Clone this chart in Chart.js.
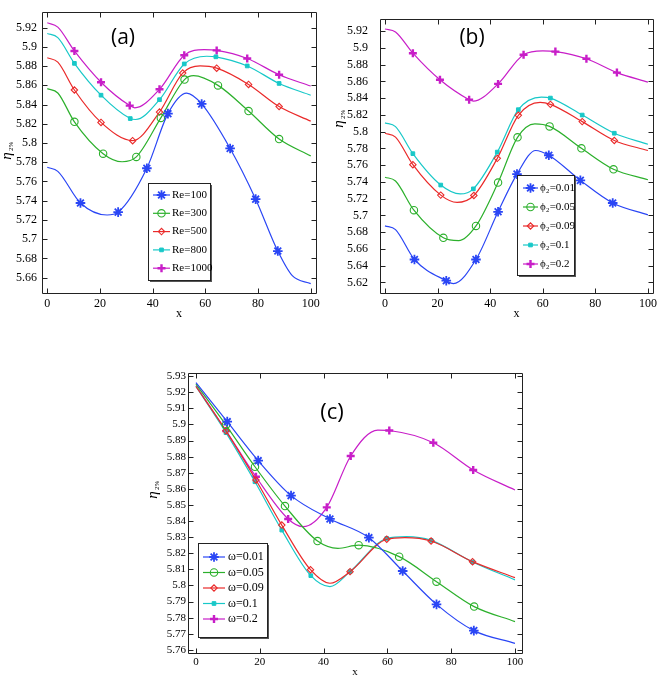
<!DOCTYPE html>
<html><head><meta charset="utf-8">
<script src="https://cdn.jsdelivr.net/npm/chart.js@4/dist/chart.umd.min.js"></script>
<style>
html,body{margin:0;padding:0;background:#fff;width:661px;height:679px;overflow:hidden;position:relative}
canvas{position:absolute}
</style></head><body>
<canvas id="ca" style="left:0px;top:0px;width:330px;height:330px" width="330" height="330"></canvas>
<canvas id="cb" style="left:330px;top:0px;width:331px;height:330px" width="331" height="330"></canvas>
<canvas id="cc" style="left:140px;top:340px;width:390px;height:339px" width="390" height="339"></canvas>
<script>
// ---------------- tick labels ----------------
const xTicks = [0, 20, 40, 60, 80, 100];
const yTicksA = [5.66, 5.68, 5.7, 5.72, 5.74, 5.76, 5.78, 5.8, 5.82, 5.84, 5.86, 5.88, 5.9, 5.92];
const yTicksB = [5.62, 5.64, 5.66, 5.68, 5.7, 5.72, 5.74, 5.76, 5.78, 5.8, 5.82, 5.84, 5.86, 5.88, 5.9, 5.92];
const yTicksC = [5.76, 5.77, 5.78, 5.79, 5.8, 5.81, 5.82, 5.83, 5.84, 5.85, 5.86, 5.87, 5.88, 5.89, 5.9, 5.91, 5.92, 5.93];

// ---------------- panel (a): Re ----------------
const labelsA = ['Re=100', 'Re=300', 'Re=500', 'Re=800', 'Re=1000'];
const a_Re100_marks = [[12.6,5.7376],[26.9,5.7281],[37.8,5.7737],[45.8,5.8305],[58.6,5.8406],[69.4,5.7943],[79.1,5.7416],[87.5,5.6876]];
const a_Re100_curve = [[0,5.7747],[4,5.7705],[22.7,5.7251],[52.9,5.8518],[93,5.662],[100,5.6538]];
const a_Re300_marks = [[10.3,5.822],[21.2,5.7889],[33.8,5.7855],[43.1,5.8261],[52.1,5.8659],[64.8,5.8599],[76.4,5.8332],[88,5.8041]];
const a_Re300_curve = [[0,5.8565],[4,5.852],[28.4,5.7805],[55.5,5.870],[100,5.7866]];
const a_Re500_marks = [[10.3,5.8551],[20.4,5.8214],[32.4,5.8024],[42.6,5.8322],[51.4,5.8727],[64.3,5.8778],[76.4,5.8609],[88,5.8379]];
const a_Re500_curve = [[0,5.8886],[4,5.884],[58,5.8801],[100,5.8227]];
const a_Re800_marks = [[10.3,5.8828],[20.4,5.8497],[31.5,5.8254],[42.6,5.845],[52,5.8822],[64,5.8896],[75.9,5.8801],[88,5.8619]];
const a_Re800_curve = [[0,5.9139],[4,5.9095],[33.5,5.8244],[60.5,5.8902],[100,5.8497]];
const a_Re1000_marks = [[10.3,5.8957],[20.4,5.8632],[31.3,5.8389],[42.6,5.8558],[52,5.8913],[64.3,5.8963],[75.9,5.8879],[88,5.871]];
const a_Re1000_curve = [[0,5.925],[4,5.9205],[33.2,5.8366],[59.5,5.897],[100,5.8592]];

// ---------------- panel (b): phi2 ----------------
const labelsB = ['\u03D5\u2082=0.01', '\u03D5\u2082=0.05', '\u03D5\u2082=0.09', '\u03D5\u2082=0.1', '\u03D5\u2082=0.2'];
const b_p001_marks = [[11.2,5.6473],[23.3,5.622],[34.6,5.6473],[43,5.7043],[50.2,5.7493],[62.3,5.7718],[74.3,5.7418],[86.6,5.7148]];
const b_p001_curve = [[0,5.6874],[4,5.683],[26,5.6185],[57.3,5.7775],[100,5.7006]];
const b_p005_marks = [[11,5.7062],[22.2,5.6732],[34.6,5.6874],[43,5.7392],[50.4,5.7932],[62.6,5.8063],[74.7,5.7801],[86.9,5.755]];
const b_p005_curve = [[0,5.7456],[4,5.741],[28,5.6698],[57,5.8093],[100,5.7426]];
const b_p009_marks = [[10.6,5.7605],[21.2,5.7242],[33.8,5.7238],[42.7,5.7681],[50.7,5.8195],[62.9,5.8326],[75,5.812],[87.2,5.7895]];
const b_p009_curve = [[0,5.7981],[4,5.7935],[27.4,5.7155],[59,5.835],[100,5.7775]];
const b_p01_marks = [[10.6,5.7737],[21.2,5.7362],[33.6,5.7317],[42.7,5.7756],[50.7,5.8262],[62.9,5.8401],[75,5.8198],[87.2,5.7981]];
const b_p01_curve = [[0,5.8105],[4,5.806],[28.6,5.7256],[59.5,5.8412],[100,5.785]];
const b_p02_marks = [[10.6,5.8937],[20.9,5.8619],[32,5.8382],[43,5.857],[52.7,5.8919],[64.8,5.8956],[76.6,5.887],[88.2,5.8705]];
const b_p02_curve = [[0,5.9226],[4,5.919],[33.6,5.8364],[60,5.8964],[100,5.8592]];

// ---------------- panel (c): omega ----------------
const labelsC = ['\u03C9=0.01', '\u03C9=0.05', '\u03C9=0.09', '\u03C9=0.1', '\u03C9=0.2'];
const c_w001_marks = [[9.8,5.9017],[19.5,5.8775],[29.8,5.8558],[42,5.8413],[54.2,5.8297],[64.8,5.809],[75.4,5.7883],[87.1,5.772]];
const c_w001_curve = [[0,5.926],[100,5.7641]];
const c_w005_marks = [[9.4,5.8996],[18.5,5.8737],[27.9,5.8493],[38.1,5.8276],[51,5.825],[63.7,5.8179],[75.4,5.8024],[87.2,5.7869]];
const c_w005_curve = [[0,5.925],[44.5,5.8231],[100,5.7776]];
const c_w009_marks = [[9.4,5.896],[18.8,5.8655],[26.9,5.8375],[35.9,5.8098],[48.3,5.8086],[59.8,5.8287],[73.7,5.8276],[86.7,5.8148]];
const c_w009_curve = [[0,5.9235],[42,5.8014],[65.5,5.8297],[100,5.8049]];
const c_w01_marks = [[9.4,5.8949],[18.5,5.8644],[26.9,5.8344],[36,5.8061],[48.3,5.8086],[59.8,5.8292],[73.7,5.828],[86.7,5.8146]];
const c_w01_curve = [[0,5.9235],[42,5.7993],[66,5.8303],[100,5.8035]];
const c_w02_marks = [[9.5,5.8959],[18.8,5.8675],[28.9,5.8413],[41,5.8485],[48.5,5.8804],[60.6,5.8962],[74.4,5.8886],[86.9,5.8717]];
const c_w02_curve = [[0,5.924],[33.6,5.8365],[57,5.8965],[100,5.8593]];

// ---------------- styles ----------------
const COLORS = ['#2a46f5', '#2cb02c', '#ea2a2a', '#18c8c8', '#c81ec8'];
const MARKERS = [
  {style:'star', r:4.8, w:1.8, fill:false},
  {style:'circle', r:3.7, w:1.1, fill:false},
  {style:'rectRot', r:3.2, w:1.1, fill:false},
  {style:'rect', r:2.6, w:1, fill:true},
  {style:'cross', r:4, w:2.4, fill:false}
];

function merge(marks, curve) {
  const pts = marks.map(p => ({x:p[0], y:p[1], m:true})).concat(curve.map(p => ({x:p[0], y:p[1], m:false})));
  pts.sort((a, b) => a.x - b.x);
  return pts;
}
function makeDatasets(labels, series) {
  return series.map((s, i) => ({
    label: labels[i],
    data: merge(s[0], s[1]),
    borderColor: COLORS[i],
    backgroundColor: MARKERS[i].fill ? COLORS[i] : 'rgba(255,255,255,0)',
    borderWidth: 1.2,
    pointStyle: MARKERS[i].style,
    pointBorderWidth: MARKERS[i].w,
    pointBorderColor: COLORS[i],
    pointBackgroundColor: MARKERS[i].fill ? COLORS[i] : 'rgba(255,255,255,0)',
    pointRadius: ctx => (ctx.raw && ctx.raw.m) ? MARKERS[i].r : 0,
    pointHoverRadius: 0,
    cubicInterpolationMode: 'monotone',
    fill: false
  }));
}

const fmt = v => String(+(+v).toFixed(2));

const frame = {
  id: 'frame',
  afterDraw(chart, args, o) {
    const {ctx, chartArea: a, scales: {x, y}} = chart;
    ctx.save();
    ctx.strokeStyle = '#222';
    ctx.lineWidth = 1;
    const L = Math.round(a.left) + 0.5, R = Math.round(a.right) + 0.5, T = Math.round(a.top) + 0.5, B = Math.round(a.bottom) + 0.5;
    ctx.beginPath();
    ctx.rect(L, T, R - L, B - T);
    x.ticks.forEach(t => {
      const p = Math.round(x.getPixelForValue(t.value)) + 0.5;
      ctx.moveTo(p, B); ctx.lineTo(p, B - 5);
      ctx.moveTo(p, T); ctx.lineTo(p, T + 5);
    });
    y.ticks.forEach(t => {
      const p = Math.round(y.getPixelForValue(t.value)) + 0.5;
      ctx.moveTo(L, p); ctx.lineTo(L + 5, p);
      ctx.moveTo(R, p); ctx.lineTo(R - 5, p);
    });
    ctx.stroke();

    // panel tag
    ctx.fillStyle = '#000';
    ctx.font = o.tagFont;
    ctx.textAlign = 'center';
    ctx.textBaseline = 'middle';
    ctx.fillText(o.tag, o.tagX, o.tagY);

    // y-axis label (eta with subscript)
    ctx.save();
    ctx.translate(o.etaX, o.etaY);
    ctx.rotate(-Math.PI / 2);
    ctx.font = 'italic 15px "Liberation Serif", "DejaVu Serif", serif';
    ctx.textAlign = 'center';
    ctx.textBaseline = 'middle';
    ctx.fillText('\u03B7', -3, 0);
    ctx.font = '7px "Liberation Serif", "DejaVu Serif", serif';
    ctx.textAlign = 'left';
    ctx.fillText('2%', 2, 4);
    ctx.restore();

    // legend
    const lg = o.legend;
    ctx.fillStyle = '#555';
    ctx.fillRect(lg.x + 2, lg.y + 2, lg.w, lg.h);
    ctx.fillStyle = '#fff';
    ctx.fillRect(lg.x, lg.y, lg.w, lg.h);
    ctx.strokeStyle = '#222';
    ctx.lineWidth = 1;
    ctx.strokeRect(lg.x + 0.5, lg.y + 0.5, lg.w, lg.h);
    chart.data.datasets.forEach((ds, i) => {
      const yy = lg.row0 + i * lg.dy;
      ctx.strokeStyle = ds.borderColor;
      ctx.lineWidth = 1.2;
      ctx.beginPath();
      ctx.moveTo(lg.l0, yy); ctx.lineTo(lg.l1, yy);
      ctx.stroke();
      ctx.strokeStyle = ds.borderColor;
      ctx.fillStyle = ds.pointBackgroundColor;
      ctx.lineWidth = MARKERS[i].w;
      Chart.helpers.drawPoint(ctx, {pointStyle: MARKERS[i].style, radius: MARKERS[i].r, rotation: 0, borderWidth: MARKERS[i].w}, (lg.l0 + lg.l1) / 2, yy);
      ctx.fillStyle = '#000';
      ctx.font = lg.font;
      ctx.textAlign = 'left';
      ctx.textBaseline = 'middle';
      ctx.fillText(ds.label, lg.tx, yy);
    });
    ctx.restore();
  }
};

function makeChart(id, labels, series, cfg) {
  return new Chart(document.getElementById(id), {
    type: 'line',
    data: {datasets: makeDatasets(labels, series)},
    options: {
      responsive: false,
      animation: false,
      devicePixelRatio: 1,
      events: [],
      layout: {padding: cfg.pad},
      plugins: {legend: {display: false}, tooltip: {enabled: false}, frame: cfg.frame},
      scales: {
        x: {
          type: 'linear', min: cfg.xMin, max: cfg.xMax,
          afterBuildTicks: s => { s.ticks = xTicks.map(v => ({value: v})); },
          afterFit: s => { s.height = cfg.xH; },
          grid: {display: false, drawTicks: false},
          border: {display: false},
          ticks: {color: '#000', padding: cfg.xPad, font: {family: 'Liberation Serif', size: cfg.xFont}, maxRotation: 0, autoSkip: false},
          title: {display: true, text: 'x', color: '#000', font: {family: 'Liberation Serif', size: cfg.xFont}, padding: {top: 0, bottom: cfg.xTitlePad}}
        },
        y: {
          type: 'linear', min: cfg.yMin, max: cfg.yMax,
          afterBuildTicks: s => { s.ticks = cfg.yTicks.map(v => ({value: v})); },
          afterFit: s => { s.width = cfg.yW; },
          grid: {display: false, drawTicks: false},
          border: {display: false},
          ticks: {color: '#000', padding: cfg.yPad, font: {family: 'Liberation Serif', size: cfg.yFont}, autoSkip: false, callback: v => fmt(v)}
        }
      }
    },
    plugins: [frame]
  });
}

makeChart('ca', labelsA,
  [[a_Re100_marks, a_Re100_curve], [a_Re300_marks, a_Re300_curve], [a_Re500_marks, a_Re500_curve], [a_Re800_marks, a_Re800_curve], [a_Re1000_marks, a_Re1000_curve]],
  {pad: {left: 0, top: 4, right: 14, bottom: 0}, xMin: -2, xMax: 102, yMin: 5.644, yMax: 5.936, yTicks: yTicksA,
   xH: 37, yW: 42, xPad: 4, yPad: 5, xFont: 12, yFont: 12, xTitlePad: 9,
   frame: {tag: '(a)', tagX: 123, tagY: 38, tagFont: '21px "Open Sans", "Liberation Sans", sans-serif', etaX: 7, etaY: 153,
     legend: {x: 148, y: 183, w: 62, h: 97, row0: 195, dy: 18.3, l0: 153, l1: 170, tx: 172, font: '11px "Liberation Serif", serif'}}});

makeChart('cb', labelsB,
  [[b_p001_marks, b_p001_curve], [b_p005_marks, b_p005_curve], [b_p009_marks, b_p009_curve], [b_p01_marks, b_p01_curve], [b_p02_marks, b_p02_curve]],
  {pad: {left: 0, top: 3, right: 3, bottom: 0}, xMin: -1.9, xMax: 101.9, yMin: 5.6073, yMax: 5.9343, yTicks: yTicksB,
   xH: 37, yW: 50, xPad: 4, yPad: 12, xFont: 12, yFont: 12, xTitlePad: 9,
   frame: {tag: '(b)', tagX: 142, tagY: 38, tagFont: '21px "Open Sans", "Liberation Sans", sans-serif', etaX: 9, etaY: 121,
     legend: {x: 187, y: 175, w: 57, h: 100, row0: 188, dy: 19, l0: 193, l1: 208, tx: 210, font: '11px "Liberation Serif", "DejaVu Serif", serif'}}});

makeChart('cc', labelsC,
  [[c_w001_marks, c_w001_curve], [c_w005_marks, c_w005_curve], [c_w009_marks, c_w009_curve], [c_w01_marks, c_w01_curve], [c_w02_marks, c_w02_curve]],
  {pad: {left: 0, top: 33, right: 8, bottom: 0}, xMin: -2.5, xMax: 102.2, yMin: 5.7581, yMax: 5.9319, yTicks: yTicksC,
   xH: 26, yW: 48, xPad: 3, yPad: 2, xFont: 11, yFont: 11, xTitlePad: 0,
   frame: {tag: '(c)', tagX: 192, tagY: 73, tagFont: '22px "Open Sans", "Liberation Sans", sans-serif', etaX: 13, etaY: 152,
     legend: {x: 58, y: 203, w: 69, h: 94, row0: 217, dy: 15.5, l0: 63, l1: 85, tx: 88, font: '12px "Liberation Serif", "DejaVu Serif", serif'}}});
</script>
</body></html>
